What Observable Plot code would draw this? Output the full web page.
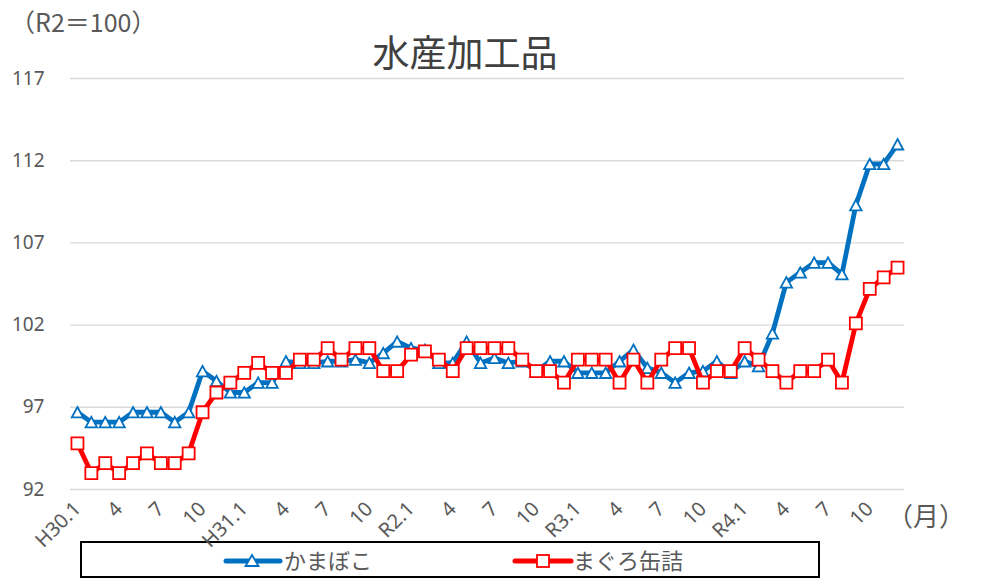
<!DOCTYPE html>
<html><head><meta charset="utf-8">
<script src="https://cdn.jsdelivr.net/npm/d3@7"></script>
<script src="https://cdn.jsdelivr.net/npm/@observablehq/plot@0.6"></script>
<style>
body{margin:0;background:#fff;}
#wrap{position:relative;width:981px;height:584px;font-family:"Noto Sans CJK JP","Noto Sans",sans-serif;color:#595959;overflow:hidden;}
#chart{position:absolute;left:0;top:0;width:981px;height:584px;z-index:2;}
#wrap svg.chart{position:absolute;left:0;top:0;}
.lbl{position:absolute;white-space:nowrap;line-height:1;z-index:3;}
#unit{left:10px;top:9px;font-size:25px;}
#title{left:315px;width:300px;text-align:center;top:33px;font-size:37px;color:#404040;}
#month{left:887px;top:502px;font-size:26px;}
#legend{position:absolute;left:80px;top:541px;width:740px;height:37px;box-sizing:border-box;border:2px solid #000;background:transparent;z-index:1;}
.sw{position:absolute;top:8px;}
.lt{position:absolute;top:5px;font-size:22px;line-height:1;white-space:nowrap;}
</style></head><body>
<div id="wrap">
  <div id="legend">
    <svg class="sw" style="left:141px" width="60" height="20"><line x1="3" y1="10" x2="57" y2="10" stroke="#0070C0" stroke-width="5" stroke-linecap="round"/><path d="M29,4 L35.5,15 L22.5,15Z" fill="#fff" stroke="#0070C0" stroke-width="1.8"/></svg>
    <span class="lt" style="left:202px">かまぼこ</span>
    <svg class="sw" style="left:430px" width="62" height="20"><line x1="3" y1="10" x2="59" y2="10" stroke="#FF0000" stroke-width="5" stroke-linecap="round"/><rect x="25" y="4" width="12" height="12" fill="#fff" stroke="#FF0000" stroke-width="1.8"/></svg>
    <span class="lt" style="left:491px">まぐろ缶詰</span>
  </div>
  <div id="chart"></div>
  <div class="lbl" id="unit">（R2＝100）</div>
  <div class="lbl" id="title">水産加工品</div>
  <div class="lbl" id="month">（月）</div>
</div>
<script>
// monthly index H30.1 (Jan 2018) .. R4.12 (Dec 2022)
const kamaboko = [
  96.7, 96.1, 96.1, 96.1, 96.7, 96.7, 96.7, 96.1, 96.7, 99.2, 98.6, 97.9,
  97.9, 98.5, 98.5, 99.8, 99.7, 99.7, 99.8, 99.8, 99.9, 99.7, 100.3, 101.0,
  100.6, 100.5, 99.7, 99.7, 101.0, 99.7, 100.0, 99.7, 99.8, 99.2, 99.8, 99.8,
  99.1, 99.1, 99.1, 99.8, 100.5, 99.4, 99.1, 98.5, 99.1, 99.2, 99.8, 99.1,
  99.8, 99.5, 101.5, 104.6, 105.2, 105.8, 105.8, 105.1, 109.3, 111.8, 111.8, 113.0
];
const maguro = [
  94.8, 93.0, 93.6, 93.0, 93.6, 94.2, 93.6, 93.6, 94.2, 96.7, 97.9, 98.5,
  99.1, 99.7, 99.1, 99.1, 99.9, 99.9, 100.6, 99.9, 100.6, 100.6, 99.2, 99.2,
  100.2, 100.4, 99.9, 99.2, 100.6, 100.6, 100.6, 100.6, 99.9, 99.2, 99.2, 98.5,
  99.9, 99.9, 99.9, 98.5, 99.9, 98.5, 99.9, 100.6, 100.6, 98.5, 99.2, 99.2,
  100.6, 99.9, 99.2, 98.5, 99.2, 99.2, 99.9, 98.5, 102.1, 104.2, 104.9, 105.5
];
const tickLabels = ["H30.1","4","7","10","H31.1","4","7","10","R2.1","4","7","10",
                    "R3.1","4","7","10","R4.1","4","7","10"];
const yTicks = [92, 97, 102, 107, 112, 117];
const BLUE = "#0070C0", RED = "#FF0000";

const rowsK = kamaboko.map((v, i) => ({i, v}));
const rowsM = maguro.map((v, i) => ({i, v}));
const tickPos = tickLabels.map((_, k) => k * 3);

const triangle = {draw(ctx, size) {
  const r = Math.sqrt(size / Math.PI), hw = r * 0.95, hh = r * 0.87;
  ctx.moveTo(0, -hh); ctx.lineTo(hw, hh); ctx.lineTo(-hw, hh); ctx.closePath();
}};
const square = {draw(ctx, size) {
  const r = Math.sqrt(size / Math.PI);
  ctx.rect(-r, -r, 2 * r, 2 * r);
}};

const chart = Plot.plot({
  width: 981, height: 584,
  marginTop: 78, marginBottom: 95, marginLeft: 70, marginRight: 77,
  style: {fontFamily: '"Noto Sans", sans-serif', fontSize: "19px", color: "#595959", background: "transparent", maxWidth: "none"},
  x: {type: "linear", domain: [-0.5, 59.5]},
  y: {domain: [92, 117]},
  marks: [
    Plot.gridY(yTicks, {stroke: "#d9d9d9", strokeOpacity: 1, strokeWidth: 1.4}),
    Plot.axisY(yTicks, {tickSize: 0, tickPadding: 26, fontSize: 19, label: null}),
    Plot.axisX(tickPos, {tickSize: 0, tickPadding: 16, tickRotate: -45, fontSize: 20,
      tickFormat: (d) => tickLabels[d / 3], label: null}),
    Plot.lineY(rowsK, {x: "i", y: "v", stroke: BLUE, strokeWidth: 4.8}),
    Plot.dot(rowsK, {x: "i", y: "v", symbol: triangle, r: 6, fill: "white", stroke: BLUE, strokeWidth: 1.8}),
    Plot.lineY(rowsM, {x: "i", y: "v", stroke: RED, strokeWidth: 4.8}),
    Plot.dot(rowsM, {x: "i", y: "v", symbol: square, r: 6, fill: "white", stroke: RED, strokeWidth: 1.8})
  ]
});
chart.classList.add("chart");
document.getElementById("chart").appendChild(chart);
</script>
</body></html>
